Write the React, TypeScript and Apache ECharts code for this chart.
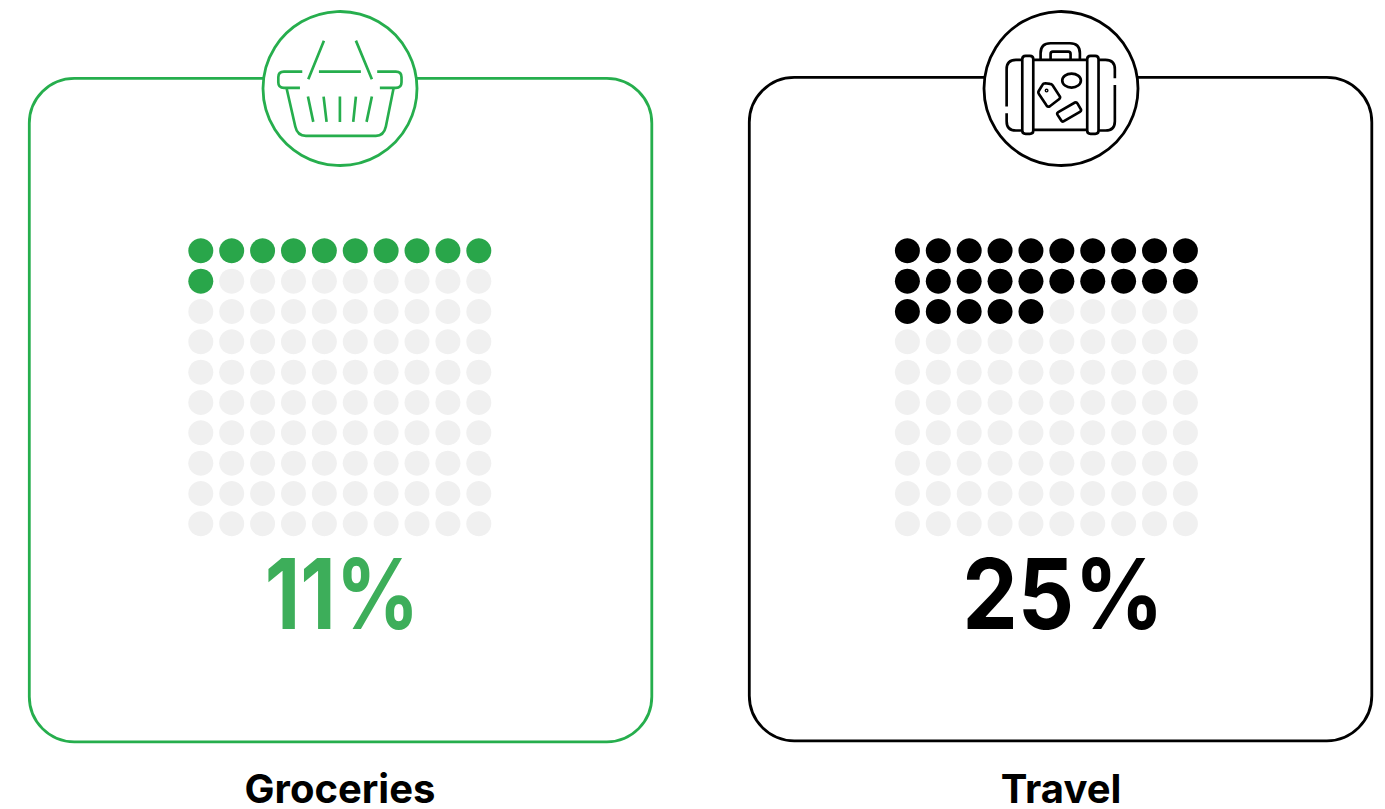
import React, { useEffect, useRef } from "react";
import * as echarts from "echarts";

const panelNames = ["Groceries", "Travel"];
const panelShares = [11, 25];
const frameColors = ["#26ae4d", "#000000"];
const dotColors = ["#29a64a", "#000000"];
const percentColors = ["#3dae5a", "#000000"];
const emptyDot = "#f0f0f0";
const columnIndex = [0, 1, 2, 3, 4, 5, 6, 7, 8, 9];
const rowIndex = [0, 1, 2, 3, 4, 5, 6, 7, 8, 9];

const basketPath =
  "M222,122 L175,238 M318,122 L366,238 M207,215 H333 " +
  "M157,215 H102 Q85,215 85,232 V247 Q85,264 102,264 H150 " +
  "M382,215 H438 Q455,215 455,232 V247 Q455,264 438,264 H390 " +
  "M110,266 L136,380 Q142,408 168,408 H378 Q402,408 408,380 L431,266 " +
  "M174,290 L190,366 M221,290 L230,366 M270,290 V366 M318,290 L310,366 M366,290 L350,366";

const suitcasePath =
  "M212,178 V160 Q212,130 242,130 H300 Q330,130 330,160 V178 " +
  "M242,176 V162 Q242,155 249,155 H295 Q302,155 302,162 V176 " +
  "M167,168 H180 Q190,168 190,178 V392 Q190,402 180,402 H167 Q157,402 157,392 V178 Q157,168 167,168 Z " +
  "M362,168 H376 Q386,168 386,178 V392 Q386,402 376,402 H362 Q352,402 352,392 V178 Q352,168 362,168 Z " +
  "M190,180 H352 M190,390 H352 " +
  "M157,180 H138 Q110,180 110,208 V320 M110,340 V364 Q110,392 138,392 H157 " +
  "M386,180 H407 Q435,180 435,208 V235 M435,255 V364 Q435,392 407,392 H386 " +
  "M277,242 A28,21 0 1 1 333,242 A28,21 0 1 1 277,242 Z " +
  "M206,274 L218,254 Q220,250 226,250 L240,252 Q245,252 248,256 L270,290 Q272,295 267,298 L240,319 Q234,322 230,317 L207,282 Q204,278 206,274 Z " +
  "M228,272 A2,2 0 1 1 232,272 A2,2 0 1 1 228,272 Z " +
  "M265,337 L315,308 Q320,306 323,311 L333,328 Q335,333 330,336 L282,364 Q277,367 274,362 L263,345 Q260,340 265,337 Z";

echarts.graphic.registerShape("basketIcon", echarts.graphic.extendPath(basketPath, {}));
echarts.graphic.registerShape("suitcaseIcon", echarts.graphic.extendPath(suitcasePath, {}));

// 10x10 waffle: cells fill left to right, top to bottom, up to the panel's share
const waffleCells = (share: number) => {
  const filled: number[][] = [];
  const empty: number[][] = [];
  rowIndex.forEach((row) =>
    columnIndex.forEach((col) => {
      (row * 10 + col < share ? filled : empty).push([col, row]);
    })
  );
  return { filled, empty };
};

const panelLeft = [29.3, 749.3];
const panelTop = [78.3, 77.3];
const gridLeft = [200.8, 907.4];
const centerX = [340, 1061];
const percentCenterX = [342, 1063];
const percentWidthScale = [0.84, 0.9];

const buildOption = () => {
  const grid = gridLeft.map((left) => ({ left, top: 250.8, width: 278, height: 273 }));
  const xAxis = gridLeft.map((_, i) => ({
    type: "value" as const, gridIndex: i, min: 0, max: 9, show: false,
  }));
  const yAxis = gridLeft.map((_, i) => ({
    type: "value" as const, gridIndex: i, min: 0, max: 9, inverse: true, show: false,
  }));
  const series = panelShares.flatMap((share, i) => {
    const { filled, empty } = waffleCells(share);
    const base = { type: "scatter" as const, xAxisIndex: i, yAxisIndex: i, symbolSize: 25, silent: true };
    return [
      { ...base, name: `${panelNames[i]} rest`, data: empty, itemStyle: { color: emptyDot, opacity: 1 } },
      { ...base, name: panelNames[i], data: filled, itemStyle: { color: dotColors[i], opacity: 1 } },
    ];
  });

  const frames = panelNames.flatMap((name, i) => [
    {
      type: "rect", z: 1, silent: true,
      shape: { x: panelLeft[i], y: panelTop[i], width: 622.5, height: 663.5, r: 45 },
      style: { fill: "#ffffff", stroke: frameColors[i], lineWidth: 2.8 },
    },
    {
      type: "circle", z: 3, silent: true,
      shape: { cx: centerX[i], cy: 88.5, r: 77 },
      style: { fill: "#ffffff", stroke: frameColors[i], lineWidth: 2.8 },
    },
    {
      type: i === 0 ? "basketIcon" : "suitcaseIcon", z: 4, silent: true,
      x: i === 0 ? 250 : 970, y: 0, scaleX: 1 / 3, scaleY: 1 / 3,
      style: { fill: "none", stroke: frameColors[i], lineWidth: 8 },
    },
    {
      type: "text", z: 4, silent: true,
      x: percentCenterX[i], y: 642, scaleX: percentWidthScale[i],
      style: {
        text: `${panelShares[i]}%`, fill: percentColors[i],
        font: "700 98px Inter", textAlign: "center", textVerticalAlign: "bottom",
      },
    },
    {
      type: "text", z: 4, silent: true,
      x: centerX[i], y: 788.5,
      style: {
        text: name, fill: "#000000", lineHeight: 36,
        font: "700 40px Inter", textAlign: "center", textVerticalAlign: "middle",
      },
    },
  ]);

  return {
    animation: false,
    backgroundColor: "#ffffff",
    grid, xAxis, yAxis, series,
    graphic: { elements: frames },
  };
};

export default function App() {
  const ref = useRef<HTMLDivElement>(null);
  useEffect(() => {
    document.body.style.margin = "0";
    const chart = echarts.init(ref.current!, undefined, { renderer: "svg" });
    chart.setOption(buildOption());
    return () => chart.dispose();
  }, []);
  return <div ref={ref} style={{ width: 1385, height: 809 }} />;
}
